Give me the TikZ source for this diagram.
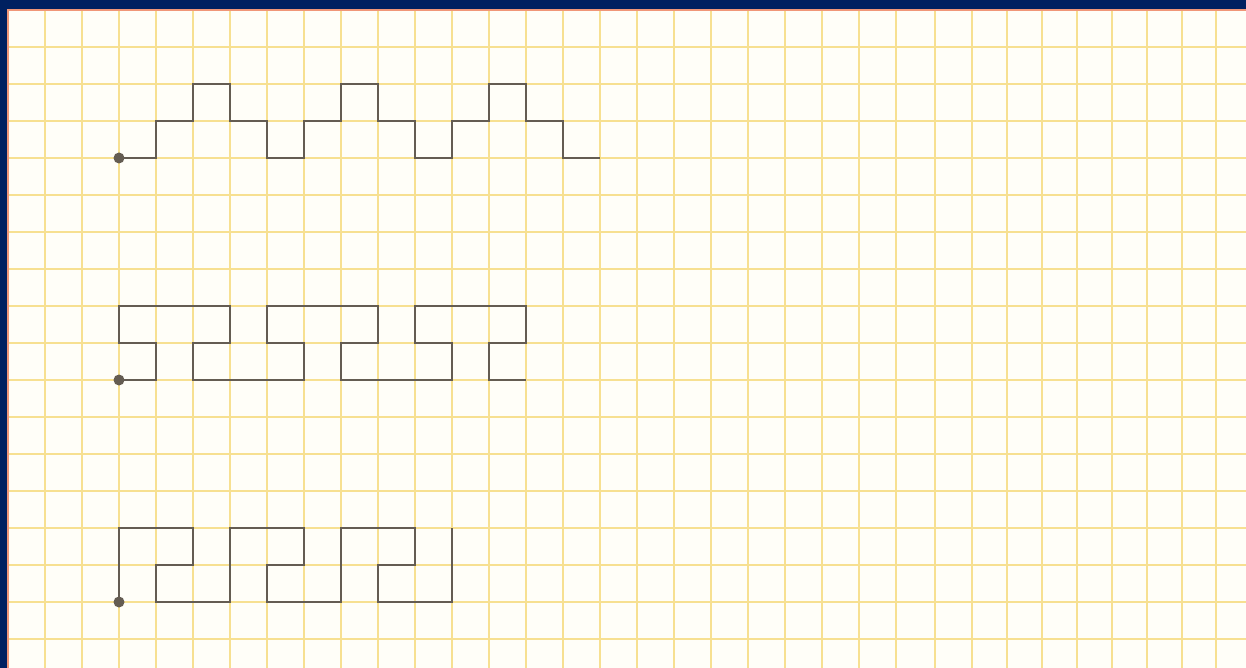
\documentclass[tikz,border=0pt]{standalone}
\usepackage{tikz}
\definecolor{navy}{RGB}{0,32,96}
\definecolor{paper}{RGB}{255,254,248}
\definecolor{gridyellow}{RGB}{247,224,145}
\definecolor{edgepink}{RGB}{240,150,120}
\definecolor{pencil}{RGB}{100,92,82}
\tikzset{
  gridline/.style={gridyellow,line width=1.1pt},
  trace/.style={pencil,line width=1.4pt,line join=miter},
  startdot/.style={fill=pencil}
}

\begin{document}
\begin{tikzpicture}[x=0.74cm,y=-0.74cm]
\useasboundingbox (-0.2162,-0.2703) rectangle (33.4595,17.7838);
\fill[navy] (-0.2162,-0.2703) rectangle (33.4595,17.7838);
\fill[paper] (-0.03,0) rectangle (33.4595,17.7838);
% squared paper
\foreach \y in {1,...,17}
  \draw[gridline] (0,\y) -- (33.4595,\y);
\foreach \x in {1,...,24}
  \draw[gridline] (\x,0) -- (\x,17.7838);
\foreach \x in {25.05,26.05,27,27.95,28.9,29.84,30.78,31.73,32.65}
  \draw[gridline] (\x,0) -- (\x,17.7838);
\draw[edgepink,line width=1.2pt] (0,17.7838) -- (0,0) -- (33.4595,0);
% start points
\coordinate (startA) at (3,4);
\coordinate (startB) at (3,10);
\coordinate (startC) at (3,16);
% first line
\draw[trace] (startA) -- (4,4) -- (4,3) -- (5,3) -- (5,2) -- (6,2) -- (6,3) -- (7,3) -- (7,4)
  -- (8,4) -- (8,3) -- (9,3) -- (9,2) -- (10,2) -- (10,3) -- (11,3) -- (11,4)
  -- (12,4) -- (12,3) -- (13,3) -- (13,2) -- (14,2) -- (14,3) -- (15,3) -- (15,4) -- (16,4);
% second line
\draw[trace] (startB) -- (4,10) -- (4,9) -- (3,9) -- (3,8) -- (6,8) -- (6,9) -- (5,9) -- (5,10)
  -- (8,10) -- (8,9) -- (7,9) -- (7,8) -- (10,8) -- (10,9) -- (9,9) -- (9,10)
  -- (12,10) -- (12,9) -- (11,9) -- (11,8) -- (14,8) -- (14,9) -- (13,9) -- (13,10) -- (14,10);
% third line
\draw[trace] (startC) -- (3,14) -- (5,14) -- (5,15) -- (4,15) -- (4,16) -- (6,16)
  -- (6,14) -- (8,14) -- (8,15) -- (7,15) -- (7,16) -- (9,16)
  -- (9,14) -- (11,14) -- (11,15) -- (10,15) -- (10,16) -- (12,16) -- (12,14);
\fill[startdot] (startA) circle (0.11cm);
\fill[startdot] (startB) circle (0.11cm);
\fill[startdot] (startC) circle (0.11cm);
\end{tikzpicture}
\end{document}
